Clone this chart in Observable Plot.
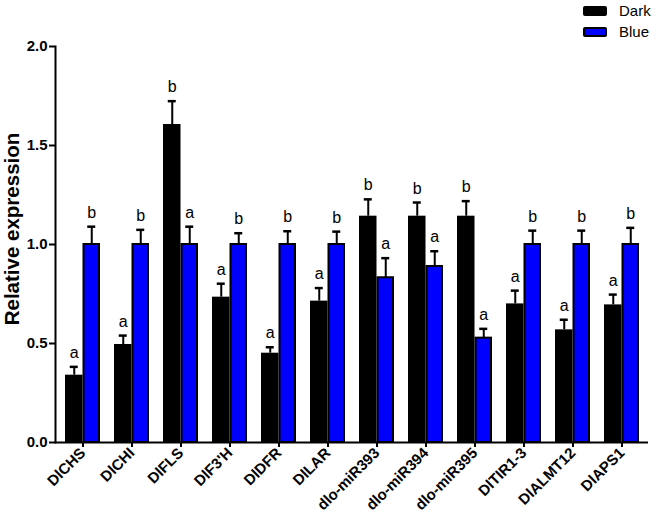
<!DOCTYPE html>
<html><head><meta charset="utf-8">
<script src="https://cdn.jsdelivr.net/npm/d3@7"></script>
<script src="https://cdn.jsdelivr.net/npm/@observablehq/plot@0.6"></script>
<style>
body{margin:0;background:#fff;font-family:"Liberation Sans",Arial,sans-serif;}
#wrap{position:relative;width:656px;height:518px;}
.lg{position:absolute;left:583px;display:flex;align-items:center;font-size:15px;color:#000;}
.lg .box{width:20px;height:6px;border:2px solid #000;border-radius:2px;margin-right:12px;}
svg g[aria-label="y-axis tick label"]{font-weight:bold;font-size:15px;}
svg g[aria-label="x-axis tick label"]{font-weight:bold;font-size:15px;}
svg g[aria-label="y-axis tick"], svg g[aria-label="x-axis tick"]{stroke-width:2px;}
</style></head><body><div id="wrap"></div>
<script>
const genes = ["DlCHS","DlCHI","DlFLS","DlF3'H","DlDFR","DlLAR","dlo-miR393","dlo-miR394","dlo-miR395","DlTIR1-3","DlALMT12","DlAPS1"];
const darkMean = [0.34,0.495,1.606,0.734,0.451,0.714,1.143,1.143,1.143,0.70,0.569,0.695];
const darkErr  = [0.042,0.045,0.118,0.068,0.030,0.066,0.085,0.069,0.076,0.067,0.051,0.052];
const darkSig  = ["a","a","b","a","a","a","b","b","b","a","a","a"];
const blueMean = [1,1,1,1,1,1,0.832,0.889,0.527,1,1,1];
const blueErr  = [0.090,0.074,0.090,0.057,0.067,0.065,0.099,0.077,0.047,0.070,0.070,0.084];
const blueSig  = ["b","b","a","b","b","b","a","a","a","b","b","b"];
const yTicks = [0,0.5,1,1.5,2];
const seriesNames = ["Dark","Blue"];
const seriesColors = ["#000000","#0000ff"];

const darkRows = genes.map((g,i)=>({gene:g,value:darkMean[i],err:darkErr[i],sig:darkSig[i]}));
const blueRows = genes.map((g,i)=>({gene:g,value:blueMean[i],err:blueErr[i],sig:blueSig[i]}));
const capY = d => d.value + d.err;
const fontFam = "Liberation Sans, Arial, sans-serif";

const chart = Plot.plot({
  width:656, height:518,
  marginLeft:55, marginRight:8, marginTop:46, marginBottom:76,
  style:{fontFamily:fontFam, background:"white", color:"black"},
  x:{domain:genes, paddingInner:0.2886, paddingOuter:0.171, label:null},
  y:{domain:[0,2], label:null},
  marks:[
    Plot.barY(darkRows,{x:"gene", y:"value", fill:seriesColors[0], insetLeft:0, insetRight:17.5}),
    Plot.barY(blueRows,{x:"gene", y:"value", fill:seriesColors[1], stroke:"black", strokeWidth:2, insetLeft:18.5, insetRight:1}),
    Plot.ruleX(darkRows,{x:"gene", y1:"value", y2:capY, dx:-8.75, strokeWidth:2}),
    Plot.ruleX(blueRows,{x:"gene", y1:"value", y2:capY, dx:8.75, strokeWidth:2}),
    Plot.tickY(darkRows,{x:"gene", y:capY, insetLeft:4.75, insetRight:22.25, strokeWidth:2.5}),
    Plot.tickY(blueRows,{x:"gene", y:capY, insetLeft:22.25, insetRight:4.75, strokeWidth:2.5}),
    Plot.text(darkRows,{x:"gene", y:capY, text:"sig", dx:-8.75, dy:-9, lineAnchor:"bottom", fontSize:16, fill:"black"}),
    Plot.text(blueRows,{x:"gene", y:capY, text:"sig", dx:8.75, dy:-9, lineAnchor:"bottom", fontSize:16, fill:"black"}),
    Plot.ruleY([0],{strokeWidth:2}),
    Plot.frame({anchor:"left", strokeWidth:2}),
    Plot.axisY({ticks:yTicks, tickFormat:d3.format(".1f"), tickSize:6, tickPadding:2, label:null}),
    Plot.axisX({tickRotate:-45, tickSize:5, tickPadding:3, label:null}),
    Plot.text(["Relative expression"],{frameAnchor:"left", rotate:-90, dx:-37, dy:-15.5, textAnchor:"middle", lineAnchor:"bottom", fontSize:20.5, fontWeight:"bold", fill:"black"})
  ]
});
const wrap = document.getElementById("wrap");
wrap.appendChild(chart);
seriesNames.forEach((name,i)=>{
  const el = document.createElement("div");
  el.className = "lg";
  el.style.top = (i===0 ? 2 : 23) + "px";
  el.innerHTML = `<span class="box" style="background:${seriesColors[i]}"></span><span>${name}</span>`;
  wrap.appendChild(el);
});
</script>
</body></html>
